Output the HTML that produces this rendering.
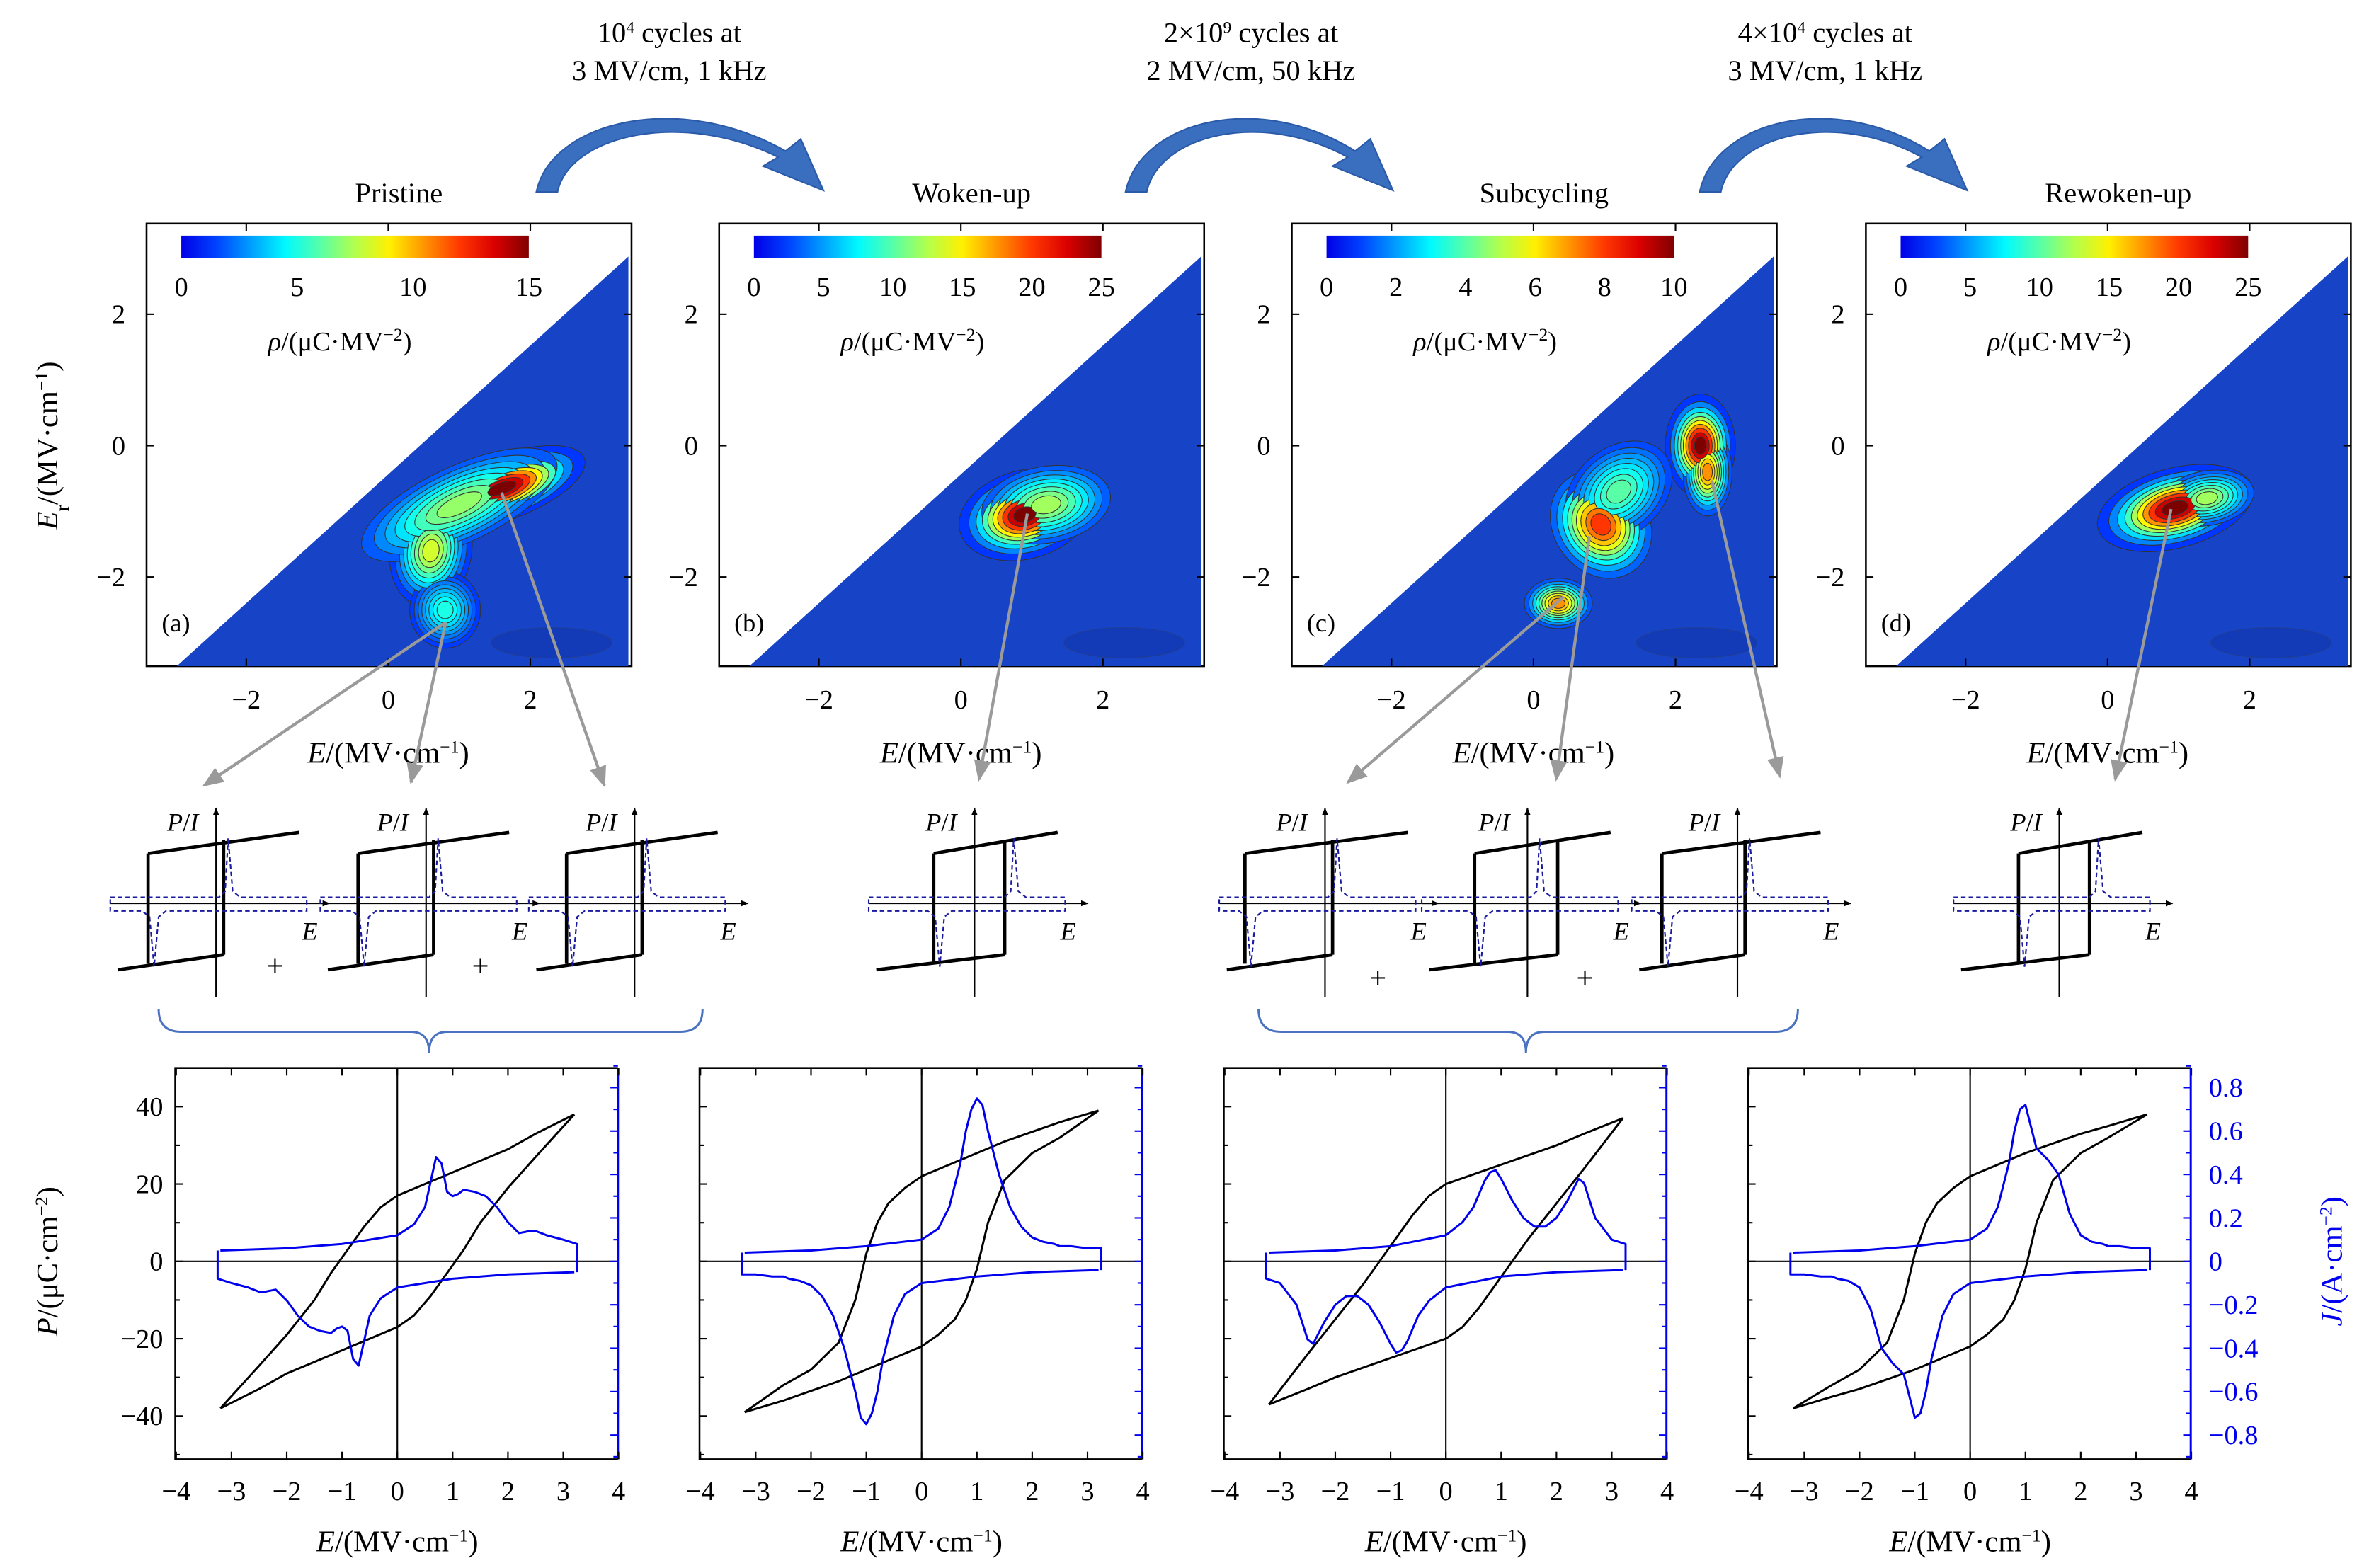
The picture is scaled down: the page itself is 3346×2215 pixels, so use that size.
<!DOCTYPE html>
<html><head><meta charset="utf-8">
<style>
html,body{margin:0;padding:0;background:#fff;}
svg{display:block;font-family:"Liberation Serif",serif;}
</style></head>
<body>
<svg id="fig" width="3346" height="2215" viewBox="0 0 1568 1038" preserveAspectRatio="none" xmlns="http://www.w3.org/2000/svg">
<defs>
<marker id="gar" viewBox="0 0 10 10" refX="9" refY="5" markerWidth="7" markerHeight="7" orient="auto"><path d="M0,1 L10,5 L0,9 z" fill="#9a9a9a"/></marker>
<marker id="kar" viewBox="0 0 10 10" refX="9" refY="5" markerWidth="5" markerHeight="5" orient="auto"><path d="M0,1 L10,5 L0,9 z" fill="#000"/></marker>
</defs>
</svg>
<script>
// ---------- data ----------
const panelTitles = ["Pristine","Woken-up","Subcycling","Rewoken-up"];
const panelLetters = ["(a)","(b)","(c)","(d)"];
const cbMax = [15,25,10,25];
const cbTicks = [[0,5,10,15],[0,5,10,15,20,25],[0,2,4,6,8,10],[0,5,10,15,20,25]];
// peaks: E, Er, amplitude, sigmaE, sigmaEr, rotation(deg)
const peaksA = [[1.6,-0.65,15,0.55,0.22,-20],[0.6,-1.6,8,0.3,0.45,10],[0.8,-2.5,5,0.3,0.35,0],[1.0,-0.9,7,0.9,0.35,-25]];
const peaksB = [[0.9,-1.05,25,0.42,0.3,-15],[1.2,-0.9,12,0.55,0.35,-10]];
const peaksC = [[2.35,0.0,10,0.22,0.35,0],[2.45,-0.4,7,0.18,0.35,0],[0.95,-1.2,8,0.35,0.45,-35],[0.35,-2.4,7,0.25,0.2,0],[1.2,-0.7,4,0.5,0.4,-40]];
const peaksD = [[0.95,-0.95,25,0.5,0.27,-15],[1.4,-0.8,12,0.4,0.25,-10]];
const peaks = [peaksA,peaksB,peaksC,peaksD];

// bottom P-E and J-E loops (upper branch; lower branch mirrored)
const loopE = [3.2,2.5,2.0,1.5,1.0,0.5,0.0,-0.3,-0.6,-0.8,-1.0,-1.2,-1.5,-2.0,-2.5,-3.2];
const loopPA = [38,33,29,26,23,20,17,14,9,5,1,-3,-10,-19,-27,-38];
const loopPB = [39,36,33.5,31,28,25,22,19,15,10,2,-10,-21,-28,-32,-39];
const loopPC = [37,33,30,27.5,25,22.5,20,17,12,8,4,0,-6,-15,-24,-37];
const loopPD = [38,35,33,30.5,28,25,22,19,15,10,2,-10,-21,-28,-32,-38];
const loopP = [loopPA,loopPB,loopPC,loopPD];
const curE = [-3.2,-2.0,-1.0,0.0,0.3,0.5,0.7,0.8,0.9,1.0,1.1,1.2,1.4,1.6,1.8,2.0,2.2,2.4,2.5,2.7,3.0,3.25];
const curJA = [0.05,0.06,0.08,0.12,0.17,0.25,0.48,0.45,0.32,0.3,0.31,0.33,0.32,0.3,0.25,0.18,0.13,0.14,0.14,0.12,0.1,0.08];
const curJB = [0.04,0.05,0.07,0.1,0.15,0.25,0.45,0.6,0.7,0.75,0.72,0.6,0.4,0.25,0.16,0.11,0.09,0.08,0.07,0.07,0.06,0.06];
const curJC = [0.04,0.05,0.07,0.12,0.18,0.25,0.37,0.41,0.42,0.38,0.33,0.28,0.2,0.16,0.16,0.2,0.28,0.38,0.36,0.2,0.1,0.08];
const curJD = [0.04,0.05,0.07,0.1,0.15,0.25,0.45,0.6,0.7,0.72,0.62,0.52,0.47,0.4,0.22,0.12,0.09,0.08,0.07,0.07,0.06,0.06];
const curJ = [curJA,curJB,curJC,curJD];
const xTicksBottom = [-4,-3,-2,-1,0,1,2,3,4];
const pTicks = [40,20,0,-20,-40];
const jTicks = [0.8,0.6,0.4,0.2,0,-0.2,-0.4,-0.6,-0.8];
const hmTicks = [-2,0,2];

// ---------- helpers ----------
const svg = document.getElementById('fig');
const NS = "http://www.w3.org/2000/svg";
function mk(tag, attrs, parent){const e=document.createElementNS(NS,tag);for(const k in attrs)e.setAttribute(k,attrs[k]);(parent||svg).appendChild(e);return e;}
function txt(x,y,s,size,anchor,parent,fill){const t=mk('text',{x:x,y:y,'font-size':size||17,'text-anchor':anchor||'middle',fill:fill||'#000'},parent);t.innerHTML=s;return t;}
function clamp(v){return Math.max(0,Math.min(1,v));}
function jet(t){const r=clamp(1.5-Math.abs(4*t-3)),g=clamp(1.5-Math.abs(4*t-2)),b=clamp(1.5-Math.abs(4*t-1));
 return `rgb(${Math.round(r*255)},${Math.round(g*255)},${Math.round(b*255)})`;}

// ---------- top annotations ----------
const topText=[["10<tspan baseline-shift='super' font-size='11'>4</tspan>  cycles at","3 MV/cm, 1 kHz",443],
 ["2×10<tspan baseline-shift='super' font-size='11'>9</tspan>  cycles at","2 MV/cm, 50 kHz",828],
 ["4×10<tspan baseline-shift='super' font-size='11'>4</tspan>  cycles at","3 MV/cm, 1 kHz",1208]];
topText.forEach((t,i)=>{
 const g=mk('g',{});
 
 
 txt(t[2],28,t[0],19,'middle',g);txt(t[2],53,t[1],19,'middle',g);
});
const arcs=[[355,545],[745,922],[1125,1302]];
arcs.forEach((a,i)=>{
 const x0=a[0],x1=a[1],m=(x0+x1)/2;
 const p=mk('path',{d:`M${x0},127 C${x0+10},80 ${m},60 ${x1-25},100 L${x1-15},92 L${x1},126 L${x1-40},110 L${x1-30},104 C${m},72 ${x0+22},90 ${x0+14},127 Z`,fill:'#3a6fc0',stroke:'#2a5aa8','stroke-width':1});
 
 
});

// ---------- heatmaps ----------
const hmX=[97,476,855,1235];
const HW=321,HT=148,HB=441;
for(let p=0;p<4;p++){
 const L=hmX[p];
 const ex=E=>L+160+E*47, ey=R=>295-R*43.5;
 const g=mk('g',{});
 
 
 txt(L+167,134,panelTitles[p],19,'middle',g);
 mk('rect',{x:L,y:HT,width:HW,height:HB-HT,fill:'#fff',stroke:'#000','stroke-width':1.2},g);
 const cid='clip'+p;
 const cp=mk('clipPath',{id:cid},g);
 const tri=`${ex(-2.98)},${HB} ${L+HW-2},${ey(2.88)} ${L+HW-2},${HB}`;
 mk('polygon',{points:tri},cp);
 const cg=mk('g',{'clip-path':`url(#${cid})`},g);
 mk('polygon',{points:tri,fill:'#1744c7'},cg);
 mk('ellipse',{cx:ex(-0.5),cy:ey(-0.5),rx:18,ry:8,fill:'#0c2a9a',opacity:0.4},cg);
 mk('ellipse',{cx:ex(2.3),cy:ey(-3.0),rx:40,ry:10,fill:'#0c2a9a',opacity:0.35,stroke:'#333','stroke-width':0.5},cg);
 const levels=[0.08,0.16,0.25,0.35,0.45,0.55,0.65,0.75,0.85,0.93];
 const pk=peaks[p];
 levels.forEach(f=>{
  pk.forEach(q=>{
   const v=q[2]*f; if(v<cbMax[p]*0.08)return;
   const s=Math.sqrt(-2*Math.log(f));
   const el=mk('ellipse',{cx:ex(q[0]),cy:ey(q[1]),rx:q[3]*47*s,ry:q[4]*43.5*s,fill:jet(Math.min(1,v/cbMax[p])*0.97+0.1),stroke:'#333','stroke-width':0.5,transform:`rotate(${q[5]} ${ex(q[0])} ${ey(q[1])})`},cg);
   
   
  });
 });
 const grad=mk('linearGradient',{id:'jg'+p,x1:0,x2:1,y1:0,y2:0},g);
 for(let i=0;i<=10;i++)mk('stop',{offset:i/10,'stop-color':jet(0.1+0.9*i/10)},grad);
 const cb=mk('rect',{x:L+23,y:156,width:230,height:15,fill:`url(#jg${p})`},g);
 
 
 cbTicks[p].forEach(v=>txt(L+23+230*v/cbMax[p],196,v,18,'middle',g));
 txt(L+128,232,"<tspan font-style='italic'>ρ</tspan>/(μC·MV<tspan baseline-shift='super' font-size='12'>−2</tspan>)",18,'middle',g);
 txt(L+10,418,panelLetters[p],17,'start',g);
 hmTicks.forEach(v=>{
  mk('line',{x1:ex(v),x2:ex(v),y1:HB,y2:HB-5,stroke:'#000'},g);
  mk('line',{x1:ex(v),x2:ex(v),y1:HT,y2:HT+5,stroke:'#000'},g);
  txt(ex(v),469,v<0?'−'+(-v):v,18,'middle',g);
  mk('line',{x1:L,x2:L+5,y1:ey(v),y2:ey(v),stroke:'#000'},g);
  mk('line',{x1:L+HW,x2:L+HW-5,y1:ey(v),y2:ey(v),stroke:'#000'},g);
  txt(L-14,ey(v)+6,v<0?'−'+(-v):v,18,'end',g);
 });
 txt(L+160,505,"<tspan font-style='italic'>E</tspan>/(MV·cm<tspan baseline-shift='super' font-size='12'>−1</tspan>)",20,'middle',g);
}
const yl=txt(0,0,"<tspan font-style='italic'>E</tspan><tspan baseline-shift='sub' font-size='13'>r</tspan>/(MV·cm<tspan baseline-shift='super' font-size='12'>−1</tspan>)",20,'middle');
yl.setAttribute('transform','translate(38,295) rotate(-90)');



const garrows=[[295,412,135,520],[295,412,272,518],[332,326,400,520],[680,340,648,516],[1035,395,892,518],[1052,355,1030,516],[1133,318,1178,514],[1437,337,1400,516]];
garrows.forEach(a=>{
 const l=mk('line',{x1:a[0],y1:a[1],x2:a[2],y2:a[3],stroke:'#9a9a9a','stroke-width':2,'marker-end':'url(#gar)'});
 
 
});

// ---------- mini schematic loops ----------
const minis=[[143,40],[282,40],[420,40],[645,22],[877,48],[1011,30],[1150,45],[1363,22]];
minis.forEach((m,i)=>{
 const x=m[0],w=m[1];
 const g=mk('g',{});
 
 
 mk('line',{x1:x-70,y1:598,x2:x+75,y2:598,stroke:'#000','stroke-width':1,'marker-end':'url(#kar)'},g);
 mk('line',{x1:x,y1:660,x2:x,y2:535,stroke:'#000','stroke-width':1,'marker-end':'url(#kar)'},g);
 txt(x-22,550,"<tspan font-style='italic'>P</tspan>/<tspan font-style='italic'>I</tspan>",17,'middle',g);
 txt(x+62,622,"<tspan font-style='italic'>E</tspan>",17,'middle',g);
 const lx=x-w-5, rx=x+(w>30?5:20);
 mk('path',{d:`M${lx},565 L${x+55},551 M${lx},565 L${lx},638 M${x-65},642 L${rx},632 M${rx},632 L${rx},556`,stroke:'#000','stroke-width':2.2,fill:'none'},g);
 const pkx=x+8+(w<30?18:0), nkx=x-w-1;
 mk('path',{d:`M${x-70},594 L${pkx-6},594 L${pkx-2},590 L${pkx},555 L${pkx+3},590 L${pkx+8},594 L${x+60},594 L${x+60},603 L${nkx+8},603 L${nkx+3},607 L${nkx},640 L${nkx-3},607 L${nkx-8},603 L${x-70},603 Z`,stroke:'#1a1aa0','stroke-width':1,'stroke-dasharray':'3,2',fill:'none'},g);
});
[[182,640],[318,640],[912,648],[1049,648]].forEach(p=>{const t=txt(p[0],p[1]+6,'+',20,'middle');});
[[105,465,284],[833,1190,1010]].forEach(b=>{
 const [a,c,m]=b;
 const p=mk('path',{d:`M${a},668 Q${a},683 ${a+15},683 L${m-12},683 Q${m},683 ${m},697 Q${m},683 ${m+12},683 L${c-15},683 Q${c},683 ${c},668`,stroke:'#4a72c0','stroke-width':1.4,fill:'none'});
 
 
});

// ---------- bottom P-E / J-E plots ----------
const bX=[116,463,810,1157];
const BW=293,BT=707,BB=966;
for(let p=0;p<4;p++){
 const L=bX[p];
 const ex=E=>L+147+E*36.6, py=P=>835-P*2.56, jy=J=>835-J*143.75;
 const g=mk('g',{});
 
 
 mk('rect',{x:L,y:BT,width:BW,height:BB-BT,fill:'#fff',stroke:'none'},g);
 mk('line',{x1:ex(0),x2:ex(0),y1:BT,y2:BB,stroke:'#000','stroke-width':1},g);
 mk('line',{x1:L,x2:L+BW,y1:py(0),y2:py(0),stroke:'#000','stroke-width':1},g);
 const up=loopE.map((e,i)=>[ex(e),py(loopP[p][i])]);
 const lo=loopE.map((e,i)=>[ex(-e),py(-loopP[p][i])]);
 const pl=mk('path',{d:'M'+up.map(q=>q.join(',')).join(' L')+' M'+lo.map(q=>q.join(',')).join(' L'),stroke:'#000','stroke-width':1.4,fill:'none'},g);
 
 
 const ju=curE.map((e,i)=>[ex(e),jy(curJ[p][i])]);
 const jl=curE.map((e,i)=>[ex(-e),jy(-curJ[p][i])]);
 const jp=mk('path',{d:'M'+ju.map(q=>q.join(',')).join(' L')+' L'+ex(curE[curE.length-1])+','+jy(-curJ[p][0])+' M'+jl.map(q=>q.join(',')).join(' L')+' L'+ex(-curE[curE.length-1])+','+jy(curJ[p][0]),stroke:'#0000ee','stroke-width':1.4,fill:'none','stroke-linejoin':'round'},g);
 
 
 mk('path',{d:`M${L+BW},${BT} L${L},${BT} L${L},${BB} L${L+BW},${BB}`,stroke:'#000','stroke-width':1.2,fill:'none'},g);
 mk('line',{x1:L+BW,x2:L+BW,y1:BT,y2:BB,stroke:'#0000ee','stroke-width':1.4},g);
 xTicksBottom.forEach(v=>{
  mk('line',{x1:ex(v),x2:ex(v),y1:BB,y2:BB-5,stroke:'#000'},g);
  mk('line',{x1:ex(v),x2:ex(v),y1:BT,y2:BT+5,stroke:'#000'},g);
  txt(ex(v),993,v<0?'−'+(-v):v,18,'middle',g);
 });
 for(let v=-50;v<=50;v+=10){mk('line',{x1:L,x2:L+(v%20===0?5:3),y1:py(v),y2:py(v),stroke:'#000'},g);}
 for(let v=-0.9;v<=0.91;v+=0.1){mk('line',{x1:L+BW,x2:L+BW-(Math.abs(Math.round(v*10))%2===0?5:3),y1:jy(v),y2:jy(v),stroke:'#0000ee'},g);}
 txt(L+147,1027,"<tspan font-style='italic'>E</tspan>/(MV·cm<tspan baseline-shift='super' font-size='12'>−1</tspan>)",20,'middle',g);
}
pTicks.forEach(v=>txt(108,835-v*2.56+6,v<0?'−'+(-v):v,18,'end'));
jTicks.forEach(v=>txt(1462,835-v*143.75+6,v<0?'−'+(-v).toFixed(1):v===0?'0':v.toFixed(1),18,'start',null,'#0000ee'));
const pl=txt(0,0,"<tspan font-style='italic'>P</tspan>/(μC·cm<tspan baseline-shift='super' font-size='12'>−2</tspan>)",20,'middle');
pl.setAttribute('transform','translate(38,835) rotate(-90)');


const jl=txt(0,0,"<tspan font-style='italic'>J</tspan>/(A·cm<tspan baseline-shift='super' font-size='12'>−2</tspan>)",20,'middle',null,'#0000ee');
jl.setAttribute('transform','translate(1550,835) rotate(-90)');


</script>
</body></html>
